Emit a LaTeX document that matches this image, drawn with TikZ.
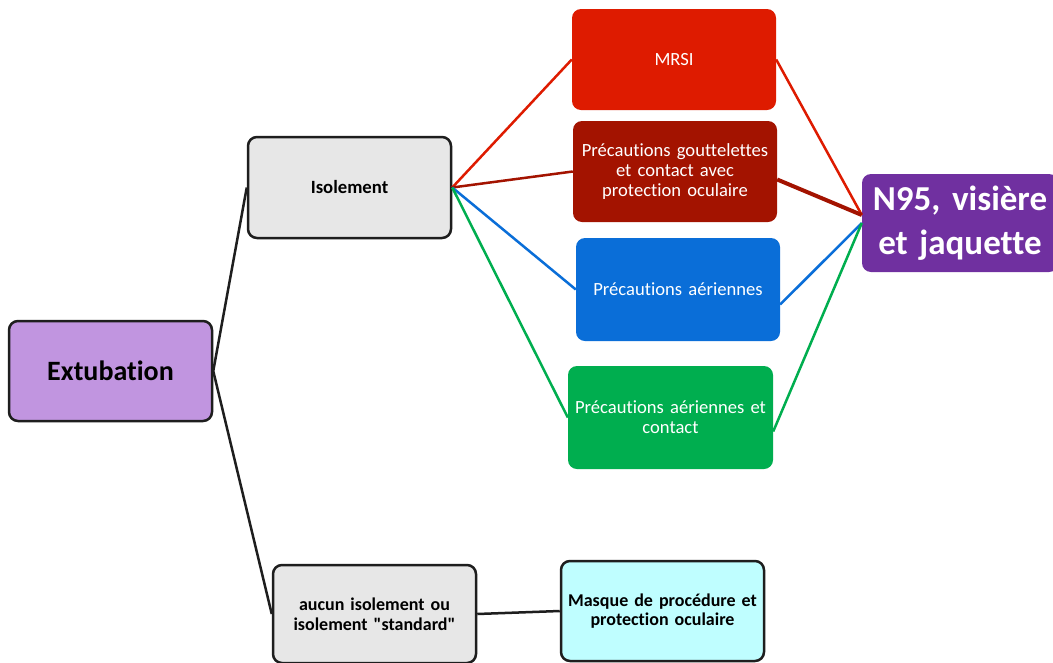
\documentclass[tikz,border=0pt]{standalone}
\usepackage{fontspec}
\setmainfont[Ligatures={NoCommon,TeXOff},WordSpace=0.8]{Carlito}
\definecolor{extc}{HTML}{C195E0}
\definecolor{grayc}{HTML}{E7E7E7}
\definecolor{masc}{HTML}{BFFEFF}
\definecolor{redc}{HTML}{DE1B00}
\definecolor{dredc}{HTML}{A31300}
\definecolor{bluec}{HTML}{0A6ED8}
\definecolor{greenc}{HTML}{00AE4F}
\definecolor{purc}{HTML}{7030A0}
\definecolor{edgec}{HTML}{1E1E1E}
\begin{document}
\begin{tikzpicture}[x=1pt,y=-1pt,
  box/.style={rectangle, rounded corners=9pt, inner sep=0pt, align=center, text width=#1},
  box/.default=200pt,
  blackbox/.style={box, draw=edgec, line width=2.5pt, font=\bfseries\fontsize{18}{19.5}\selectfont},
  colbox/.style={box, font=\fontsize{18.6}{20}\selectfont, text=white},
  link/.style={line width=2.5pt}
]
\clip (0,0) rectangle (1053,662);
\fill[white] (0,0) rectangle (1053,662);

\node[blackbox, fill=extc, minimum width=203pt, minimum height=100pt, font=\bfseries\fontsize{28}{30}\selectfont] (ext) at (110.5,371) {Extubation};
\node[blackbox, fill=grayc, minimum width=203pt, minimum height=101pt, font=\bfseries\fontsize{18.7}{20}\selectfont] (iso) at (349.5,187.5) {Isolement};
\node[blackbox, fill=grayc, minimum width=203pt, minimum height=98pt] (auc) at (374.5,614) {aucun isolement ou\\isolement "standard"};
\node[blackbox, fill=masc, minimum width=203pt, minimum height=100pt] (mas) at (662.5,611) {Masque de procédure et\\protection oculaire};

\node[colbox, fill=redc, minimum width=204pt, minimum height=101pt] (mrsi) at (674,59.5) {MRSI};
\node[colbox, fill=dredc, minimum width=204pt, minimum height=101pt] (gou) at (675,171.5) {Précautions gouttelettes\\et contact avec\\protection oculaire};
\node[colbox, fill=bluec, minimum width=204pt, minimum height=103pt] (aer) at (678,289.5) {Précautions aériennes};
\node[colbox, fill=greenc, minimum width=205pt, minimum height=103pt] (aec) at (670.5,417.5) {Précautions aériennes et\\contact};

\node[box=196pt, fill=purc, text=white, minimum width=196pt, minimum height=98pt, font=\bfseries\fontsize{35}{44}\selectfont] (n95) at (960,223) {N95, visière\\et jaquette};

\coordinate (n95a) at ([yshift=8pt]n95.west);
\coordinate (goue) at ([yshift=-8pt]gou.east);
\coordinate (aere) at ([yshift=-15pt]aer.east);
\coordinate (aece) at ([yshift=-14pt]aec.east);

\draw[link, edgec] (ext.east) -- (iso.west);
\draw[link, edgec] (ext.east) -- (auc.west);
\draw[link, edgec] (auc.east) -- (mas.west);

\draw[link, redc] (iso.east) -- (mrsi.west);
\draw[link, dredc] (iso.east) -- (gou.west);
\draw[link, bluec] (iso.east) -- (aer.west);
\draw[link, greenc] (iso.east) -- (aec.west);

\draw[link, redc] (mrsi.east) -- (n95a);
\draw[line width=4pt, dredc] (goue) -- (n95a);
\draw[link, bluec] (aere) -- (n95.west);
\draw[link, greenc] (aece) -- (n95.west);
\end{tikzpicture}
\end{document}
